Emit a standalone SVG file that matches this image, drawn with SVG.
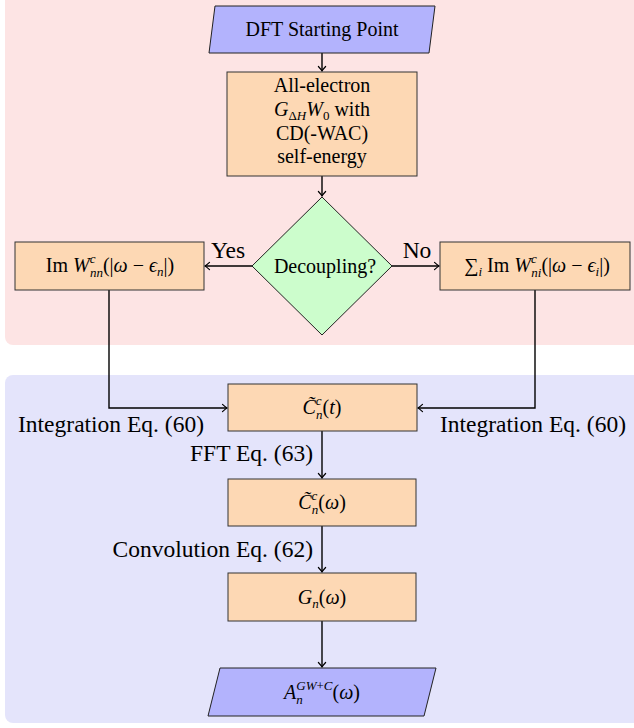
<svg xmlns="http://www.w3.org/2000/svg" width="634" height="728" viewBox="0 0 634 728" font-family="'Liberation Serif', 'Times New Roman', serif">
<style>
.t{font-family:"Liberation Serif","Times New Roman",serif;font-size:20px;fill:#000}
.lb{font-family:"Liberation Serif","Times New Roman",serif;font-size:23.5px;fill:#000}
.i{font-style:italic}
.s{font-size:13px}
.box{fill:#fdd8b4;stroke:#333;stroke-width:1}
.io{fill:#b3b3fd;stroke:#222;stroke-width:1}
.dec{fill:#ccfdcc;stroke:#222;stroke-width:1}
.c{fill:none;stroke:#000;stroke-width:1.4}
</style>
<defs>
<marker id="ah" markerWidth="12" markerHeight="12" refX="0" refY="0" viewBox="-6 -6 12 12" orient="auto" markerUnits="userSpaceOnUse">
<path d="M-4.5,-3.6 Q-1.6,-0.9 0,0 Q-1.6,0.9 -4.5,3.6" fill="none" stroke="#000" stroke-width="1.2" stroke-linecap="round"/>
</marker>
</defs>
<rect x="5" y="-10" width="640" height="355" rx="8" fill="#fde4e4"/>
<rect x="5" y="375" width="640" height="348" rx="8" fill="#e4e4fb"/>

<g id="connectors">
<path class="c" d="M322,53 V71" marker-end="url(#ah)"/>
<path class="c" d="M322,176 V196" marker-end="url(#ah)"/>
<path class="c" d="M252,266 H205" marker-end="url(#ah)"/>
<path class="c" d="M392,266 H439" marker-end="url(#ah)"/>
<path class="c" d="M109,290 V408 H227" marker-end="url(#ah)"/>
<path class="c" d="M535,290 V408 H418" marker-end="url(#ah)"/>
<path class="c" d="M322,431 V478" marker-end="url(#ah)"/>
<path class="c" d="M322,526 V572" marker-end="url(#ah)"/>
<path class="c" d="M322,621 V667" marker-end="url(#ah)"/>
<text class="lb" x="228" y="258" text-anchor="middle">Yes</text>
<text class="lb" x="417" y="258" text-anchor="middle">No</text>
<text class="lb" x="204" y="432" text-anchor="end">Integration Eq. (60)</text>
<text class="lb" x="440" y="432">Integration Eq. (60)</text>
<text class="lb" x="313" y="461" text-anchor="end">FFT Eq. (63)</text>
<text class="lb" x="313" y="557" text-anchor="end">Convolution Eq. (62)</text>
</g>

<g id="dft">
<polygon class="io" points="215,6 435,6 429,53 209,53"/>
<text class="t" x="322" y="36" text-anchor="middle">DFT Starting Point</text>
</g>

<g id="allelectron">
<rect class="box" x="227" y="72" width="190" height="104"/>
<text class="t" x="322" y="92" text-anchor="middle">All-electron</text>
<text class="t" x="322" y="116" text-anchor="middle"><tspan class="i">G</tspan><tspan class="s" dy="4">Δ</tspan><tspan class="s i">H</tspan><tspan class="i" dy="-4">W</tspan><tspan class="s" dy="4">0</tspan><tspan dy="-4"> with</tspan></text>
<text class="t" x="322" y="140" text-anchor="middle">CD(-WAC)</text>
<text class="t" x="322" y="163" text-anchor="middle">self-energy</text>
</g>

<g id="decoupling">
<polygon class="dec" points="322,197 392,266 322,335 252,266"/>
<text class="t" x="325" y="273" text-anchor="middle">Decoupling?</text>
</g>

<g id="imwnn">
<rect class="box" x="15" y="242" width="189" height="48"/>
<text class="t" x="110" y="272" text-anchor="middle">Im <tspan class="i">W</tspan><tspan class="s i" dy="-9">c</tspan><tspan class="s i" dx="-5.5" dy="14">nn</tspan><tspan dy="-5">(|</tspan><tspan class="i">ω</tspan> − <tspan class="i">ϵ</tspan><tspan class="s i" dy="4">n</tspan><tspan dy="-4">|)</tspan></text>
</g>

<g id="imwni">
<rect class="box" x="440" y="242" width="190" height="48"/>
<text class="t" x="537" y="272" text-anchor="middle">∑<tspan class="s i" dy="4">i</tspan><tspan dy="-4"> Im </tspan><tspan class="i">W</tspan><tspan class="s i" dy="-9">c</tspan><tspan class="s i" dx="-5.5" dy="14">ni</tspan><tspan dy="-5">(|</tspan><tspan class="i">ω</tspan> − <tspan class="i">ϵ</tspan><tspan class="s i" dy="4">i</tspan><tspan dy="-4">|)</tspan></text>
</g>

<g id="ct">
<rect class="box" x="228" y="384" width="189" height="47"/>
<text class="t" x="322" y="414" text-anchor="middle"><tspan class="i">C̃</tspan><tspan class="s i" dy="-9">c</tspan><tspan class="s i" dx="-5.5" dy="14">n</tspan><tspan dy="-5">(</tspan><tspan class="i">t</tspan>)</text>
</g>

<g id="cw">
<rect class="box" x="228" y="479" width="188" height="47"/>
<text class="t" x="322" y="509" text-anchor="middle"><tspan class="i">C̃</tspan><tspan class="s i" dy="-9">c</tspan><tspan class="s i" dx="-5.5" dy="14">n</tspan><tspan dy="-5">(</tspan><tspan class="i">ω</tspan>)</text>
</g>

<g id="gw">
<rect class="box" x="228" y="573" width="188" height="48"/>
<text class="t" x="322" y="604" text-anchor="middle"><tspan class="i">G</tspan><tspan class="s i" dy="4">n</tspan><tspan dy="-4">(</tspan><tspan class="i">ω</tspan>)</text>
</g>

<g id="spectral">
<polygon class="io" points="220,668 436,668 424,716 208,716"/>
<text class="t" x="322" y="699" text-anchor="middle"><tspan class="i">A</tspan><tspan class="s i" dy="5">n</tspan><tspan class="s i" dx="-6.5" dy="-14">GW</tspan><tspan class="s">+</tspan><tspan class="s i">C</tspan><tspan dy="9">(</tspan><tspan class="i">ω</tspan>)</text>
</g>
</svg>
